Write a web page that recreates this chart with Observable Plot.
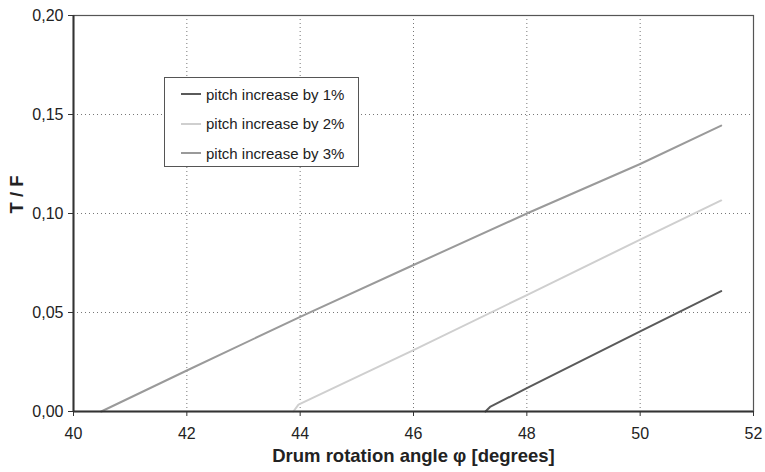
<!DOCTYPE html>
<html>
<head>
<meta charset="utf-8">
<script src="https://cdn.jsdelivr.net/npm/d3@7"></script>
<script src="https://cdn.jsdelivr.net/npm/@observablehq/plot@0.6"></script>
<style>
  html, body { margin: 0; padding: 0; background: #fff; }
  #wrap { position: relative; width: 765px; height: 472px; font-family: "Liberation Sans", Arial, sans-serif; }
  #legend { position: absolute; left: 164px; top: 77px; width: 193px; height: 88px; border: 1.3px solid #555; background: #fff; box-sizing: content-box; }
  .row { position: absolute; left: 16px; height: 18px; display: flex; align-items: center; font-size: 15px; color: #222; white-space: nowrap; }
  .sw { width: 20px; height: 2px; margin-right: 5px; }
</style>
</head>
<body>
<div id="wrap"></div>
<script>
const seriesNames = ["pitch increase by 1%", "pitch increase by 2%", "pitch increase by 3%"];
const seriesColors = ["#5a5a5a", "#cfcfcf", "#9a9a9a"];

const angle1 = [47.27, 47.35, 48, 50, 51.43];
const value1 = [0, 0.0023, 0.0118, 0.0405, 0.0608];
const angle2 = [43.88, 43.97, 46, 48, 50, 51.43];
const value2 = [0, 0.0035, 0.031, 0.0588, 0.0868, 0.1066];
const angle3 = [40.49, 42, 44, 46, 48, 50, 51.43];
const value3 = [0, 0.0207, 0.0478, 0.0740, 0.1000, 0.1250, 0.1444];

const xTicks = [40, 42, 44, 46, 48, 50, 52];
const yTicks = [0, 0.05, 0.10, 0.15, 0.20];
const xGrid = [42, 44, 46, 48, 50];
const yGrid = [0.05, 0.10, 0.15];
const xTitle = "Drum rotation angle φ [degrees]";
const yTitle = "T / F";

const data = [];
[[angle1, value1], [angle2, value2], [angle3, value3]].forEach(([xs, ys], i) => {
  xs.forEach((x, j) => data.push({series: seriesNames[i], x, y: ys[j]}));
});

const fmtY = d => d.toFixed(2).replace(".", ",");

const chart = Plot.plot({
  width: 765,
  height: 472,
  marginLeft: 73,
  marginRight: 12,
  marginTop: 15,
  marginBottom: 61,
  style: {fontFamily: "'Liberation Sans', Arial, sans-serif", fontSize: "16px", color: "#222", background: "#fff"},
  x: {domain: [40, 52]},
  y: {domain: [0, 0.2]},
  color: {domain: seriesNames, range: seriesColors},
  marks: [
    Plot.gridX(xGrid, {stroke: "#777", strokeOpacity: 1, strokeDasharray: "1,3"}),
    Plot.gridY(yGrid, {stroke: "#777", strokeOpacity: 1, strokeDasharray: "1,3"}),
    Plot.frame({stroke: "#555", strokeWidth: 1.2}),
    Plot.line(data, {x: "x", y: "y", z: "series", stroke: "series", strokeWidth: 2}),
    Plot.ruleX([40], {stroke: "#333", strokeWidth: 2}),
    Plot.ruleY([0], {stroke: "#333", strokeWidth: 2}),
    Plot.axisX({ticks: xTicks, tickSize: 5, tickPadding: 11, tickFormat: d => String(d), label: null, fontSize: 16, stroke: "#333"}),
    Plot.axisY({ticks: yTicks, tickSize: 5, tickPadding: 5, tickFormat: fmtY, label: null, fontSize: 16, stroke: "#333"}),
    Plot.text([xTitle], {frameAnchor: "bottom", dy: 50, fontSize: 18.5, fontWeight: "bold", fill: "#222"}),
    Plot.text([yTitle], {frameAnchor: "left", dx: -56, rotate: -90, fontSize: 18.5, fontWeight: "bold", fill: "#222"})
  ]
});

const wrap = document.getElementById("wrap");
wrap.appendChild(chart);

const legend = document.createElement("div");
legend.id = "legend";
seriesNames.forEach((name, i) => {
  const row = document.createElement("div");
  row.className = "row";
  row.style.top = (7 + i * 29.5) + "px";
  const sw = document.createElement("div");
  sw.className = "sw";
  sw.style.background = seriesColors[i];
  const t = document.createElement("span");
  t.textContent = name;
  row.appendChild(sw);
  row.appendChild(t);
  legend.appendChild(row);
});
wrap.appendChild(legend);
</script>
</body>
</html>
